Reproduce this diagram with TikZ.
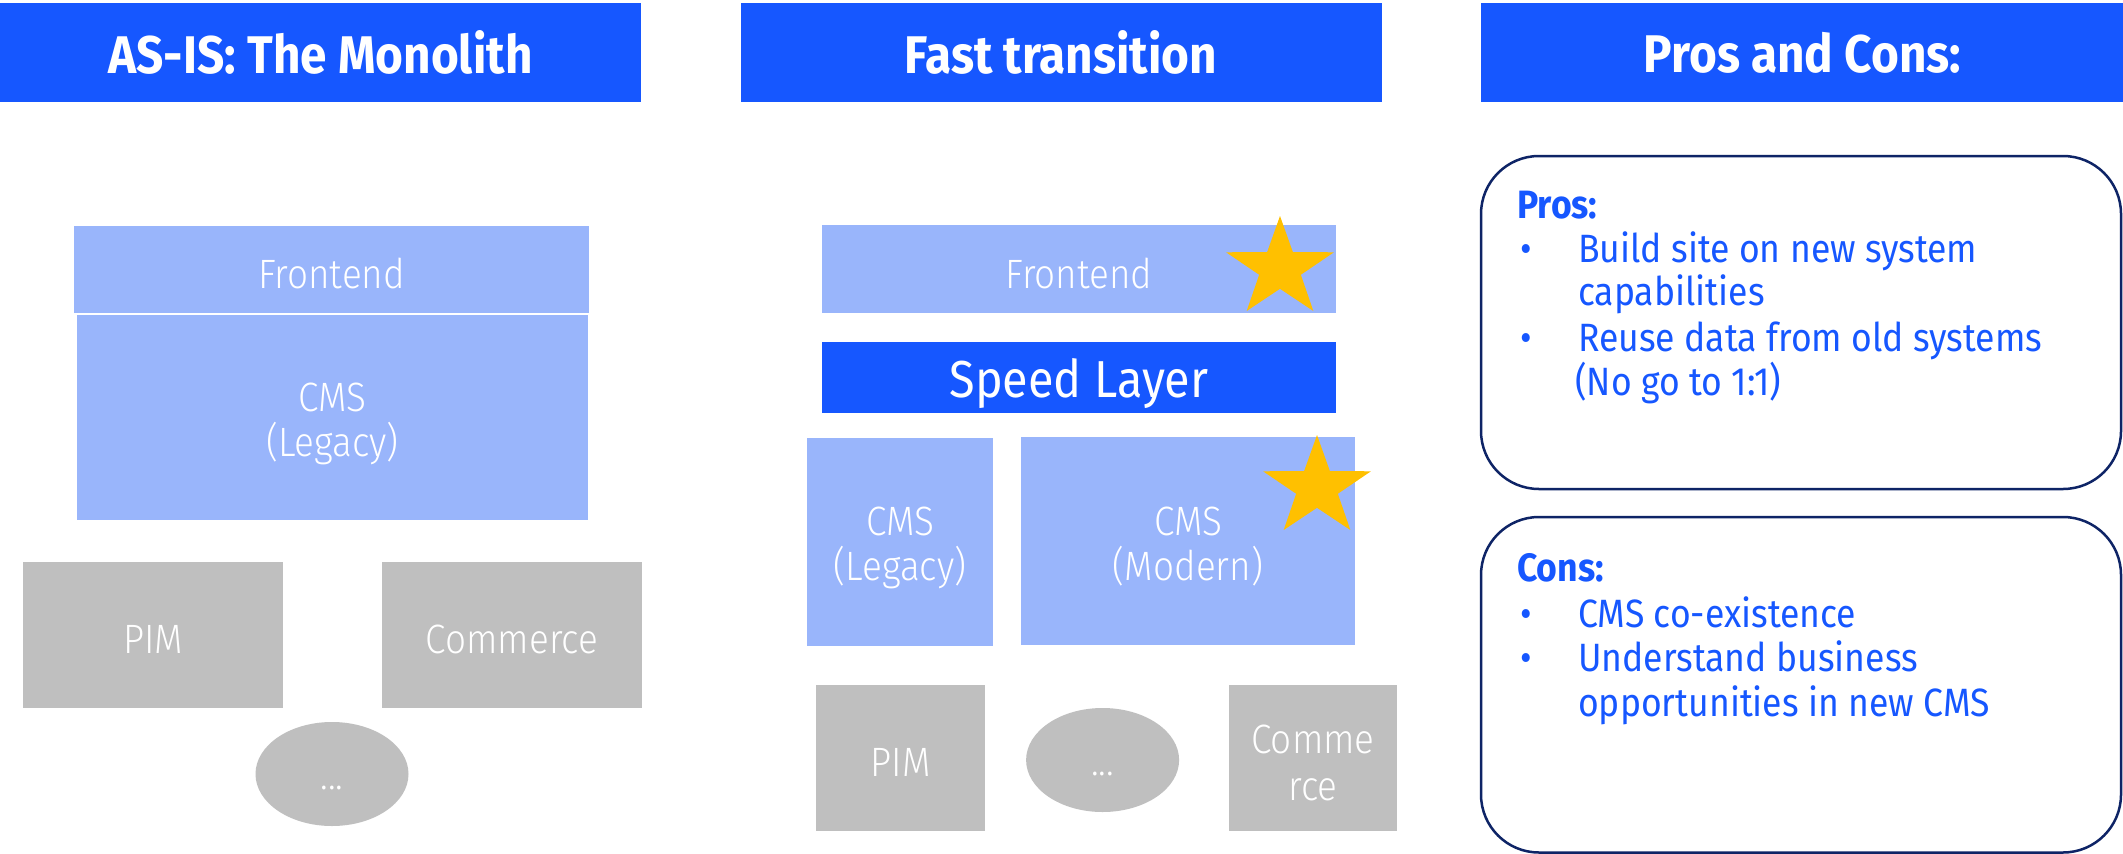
\documentclass[tikz,border=0pt]{standalone}
\usepackage{fontspec}
\setmainfont{Fira Sans}[FakeStretch=0.9]
\newfontfamily\lightfont{Fira Sans Light}[FakeStretch=0.9]
\usetikzlibrary{shapes.geometric}
\definecolor{hdrblue}{RGB}{22,87,255}
\definecolor{lightblue}{RGB}{153,181,251}
\definecolor{boxgray}{RGB}{191,191,191}
\definecolor{stargold}{RGB}{255,192,0}
\definecolor{navy}{RGB}{14,36,102}
\tikzset{
  hdr/.style={fill=hdrblue, text=white, inner sep=0pt, minimum width=641, minimum height=99,
    font=\fontsize{53}{58}\selectfont\bfseries},
  lbox/.style={fill=lightblue, inner sep=0pt},
  gbox/.style={fill=boxgray, inner sep=0pt},
  btext/.style={text=white, inner sep=0pt, align=center, font=\lightfont\fontsize{41}{45}\selectfont},
  gtext/.style={text=white, inner sep=0pt, align=center, font=\lightfont\fontsize{41}{47}\selectfont},
  gell/.style={ellipse, fill=boxgray, inner sep=0pt, minimum width=153, minimum height=104},
  speed/.style={fill=hdrblue, inner sep=0pt},
  stext/.style={text=white, inner sep=0pt, font=\fontsize{52}{56}\selectfont},
  starfill/.style={fill=stargold},
  pcbox/.style={draw=navy, line width=2.5pt, rounded corners=58, inner sep=0pt},
  pchead/.style={anchor=base west, inner sep=0pt, text=hdrblue, font=\fontsize{39.5}{44}\selectfont\bfseries},
  pctext/.style={anchor=base west, inner sep=0pt, text=hdrblue, font=\fontsize{39.5}{44}\selectfont},
}
\begin{document}
\begin{tikzpicture}[x=1pt, y=-1pt]
\useasboundingbox (0,0) rectangle (2123,854);
\fill[white] (0,0) rectangle (2123,854);

% headers
\node[hdr] (h1) at (320.5,52.5) {AS-IS: The Monolith};
\node[hdr] (h2) at (1061,52.5) {Fast transition};
\node[hdr, minimum width=643] (h3) at (1802.5,52.5) {Pros and Cons:};

% left column
\node[lbox, minimum width=515, minimum height=87] (lfront) at (331.5,269.5) {};
\node[btext] (lfront-t) at ([yshift=-4pt]lfront.center) {Frontend};
\node[lbox, minimum width=511, minimum height=205] (lcms) at (332.5,417.5) {};
\node[btext] (lcms-t) at ([yshift=-6pt]lcms.center) {CMS\\(Legacy)};
\node[gbox, minimum width=260, minimum height=146] (lpim) at (153,635) {};
\node[gtext] (lpim-t) at ([yshift=-4pt]lpim.center) {PIM};
\node[gbox, minimum width=260, minimum height=146] (lcom) at (512,635) {};
\node[gtext] (lcom-t) at ([yshift=-4pt]lcom.center) {Commerce};
\node[gell] (lell) at (332,774) {};
\node[gtext, anchor=base] (lell-t) at ([yshift=-15pt]lell.center) {...};

% middle column
\node[lbox, minimum width=514, minimum height=88] (mfront) at (1079,269) {};
\node[btext] (mfront-t) at ([yshift=-4pt]mfront.center) {Frontend};
\node[speed, minimum width=514, minimum height=71] (mspeed) at (1079,377.5) {};
\node[stext] (mspeed-t) at ([yshift=-6pt]mspeed.center) {Speed Layer};
\node[lbox, minimum width=186, minimum height=208] (mlegacy) at (900,542) {};
\node[btext] (mlegacy-t) at ([yshift=-6pt]mlegacy.center) {CMS\\(Legacy)};
\node[lbox, minimum width=334, minimum height=208] (mmodern) at (1188,541) {};
\node[btext] (mmodern-t) at ([yshift=-6pt]mmodern.center) {CMS\\(Modern)};
\node[gbox, minimum width=169, minimum height=146] (mpim) at (900.5,758) {};
\node[gtext] (mpim-t) at ([yshift=-4pt]mpim.center) {PIM};
\node[gell] (mell) at (1102.6,760) {};
\node[gtext, anchor=base] (mell-t) at ([yshift=-15pt]mell.center) {...};
\node[gbox, minimum width=168, minimum height=146] (mcom) at (1313,758) {};
\node[gtext] (mcom-t) at ([yshift=-5pt]mcom.center) {Comme\\rce};

% stars
\coordinate (s1) at (1280,268.5);
\coordinate (s2) at (1317,487.5);
\foreach \c in {s1,s2}{
  \fill[starfill, shift={(\c)}, xscale=1.08] (-90:52.5) -- (-54:20.3) -- (-18:52.5) -- (18:20.3) -- (54:52.5)
    -- (90:20.3) -- (126:52.5) -- (162:20.3) -- (198:52.5) -- (234:20.3) -- cycle;
}

% pros / cons boxes
\draw[pcbox] (1481,156) rectangle (2121,489);
\draw[pcbox] (1481,517) rectangle (2121,852.5);
\node[pchead] (prosh) at (1517,218) {Pros:};
\node[pctext] (pb1) at (1520,262.5) {\textbullet};
\node[pctext] (p1a) at (1578,262.5) {Build site on new system};
\node[pctext] (p1b) at (1578,305.5) {capabilities};
\node[pctext] (pb2) at (1520,351) {\textbullet};
\node[pctext] (p2a) at (1578,351) {Reuse data from old systems};
\node[pctext] (p2b) at (1575,395) {(No go to 1:1)};

\node[pchead] (consh) at (1517,581) {Cons:};
\node[pctext] (cb1) at (1520,627) {\textbullet};
\node[pctext] (c1) at (1578,627) {CMS co-existence};
\node[pctext] (cb2) at (1520,671.5) {\textbullet};
\node[pctext] (c2a) at (1578,671.5) {Understand business};
\node[pctext] (c2b) at (1578,716) {opportunities in new CMS};
\end{tikzpicture}
\end{document}
